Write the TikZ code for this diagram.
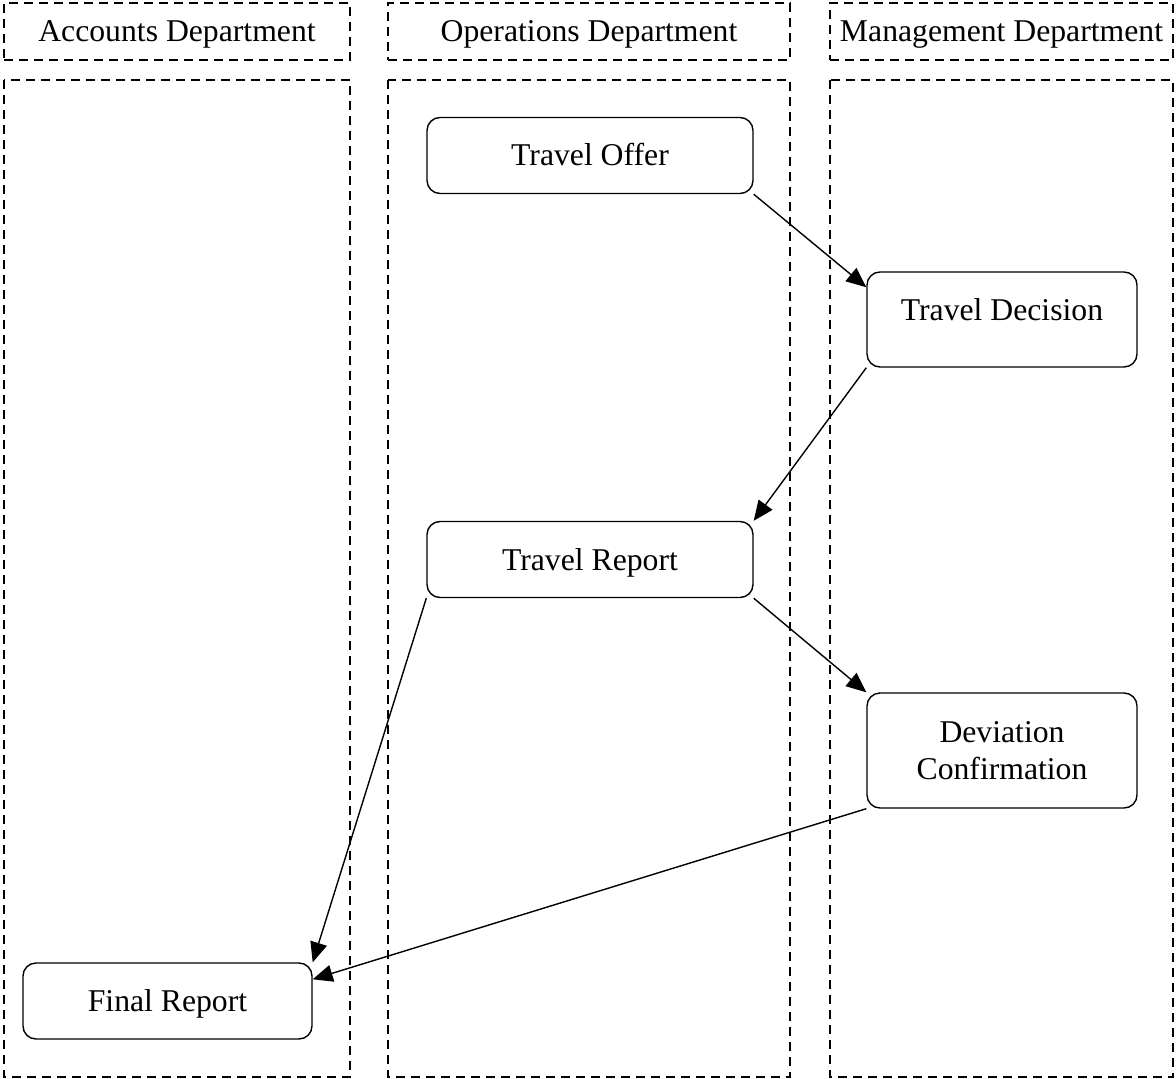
\documentclass[tikz,border=0pt]{standalone}
\usepackage{fontspec}
\setmainfont{Liberation Serif}
\usetikzlibrary{arrows.meta}
\begin{document}
\begin{tikzpicture}[x=0.5pt,y=-0.5pt,
  font=\fontsize{15.85pt}{18.5pt}\selectfont,
  lane/.style={draw, line width=0.7pt, dash pattern=on 4.5pt off 3pt},
  header/.style={lane, inner sep=0pt, minimum height=28.5pt,
    text height=19.25pt, text depth=9.25pt},
  box/.style={draw, rounded corners=6.5pt, line width=0.7pt, inner sep=0pt, align=center},
  oneline/.style={text height=24.25pt, text depth=13.75pt},
  flow/.style={line width=0.7pt, -{Triangle[length=10pt,width=8.5pt]}}
]
\useasboundingbox (0,0) rectangle (1176,1079);

% swimlane headers
\node[header, minimum width=173pt] (h1) at (177,31.5) {Accounts Department};
\node[header, minimum width=201pt] (h2) at (589,31.5) {Operations Department};
\node[header, minimum width=171.5pt] (h3) at (1001.5,31.5) {Management Department};

% swimlanes
\draw[lane] (4,80) rectangle (350,1077);
\draw[lane] (388,80) rectangle (790,1077);
\draw[lane] (830,80) rectangle (1173,1077);

% process steps
\node[box, oneline, minimum width=163pt] (to) at (590,155.5) {Travel Offer};
\node[box, minimum width=135pt, text height=24.5pt, text depth=23pt] (td) at (1002,319.5) {Travel Decision};
\node[box, oneline, minimum width=163pt] (tr) at (590,559.5) {Travel Report};
\node[box, minimum width=135pt, minimum height=57.5pt] (dc) at (1002,750.5) {Deviation\\Confirmation};
\node[box, oneline, minimum width=144.5pt] (fr) at (167.5,1001) {Final Report};

% flow
\draw[flow] (to.south east) -- ([yshift=-8pt]td.north west);
\draw[flow] (td.south west) -- (tr.north east);
\draw[flow] (tr.south east) -- (dc.north west);
\draw[flow] (tr.south west) -- (fr.north east);
\draw[flow] (dc.south west) -- ([yshift=-8.5pt]fr.north east);
\end{tikzpicture}
\end{document}
